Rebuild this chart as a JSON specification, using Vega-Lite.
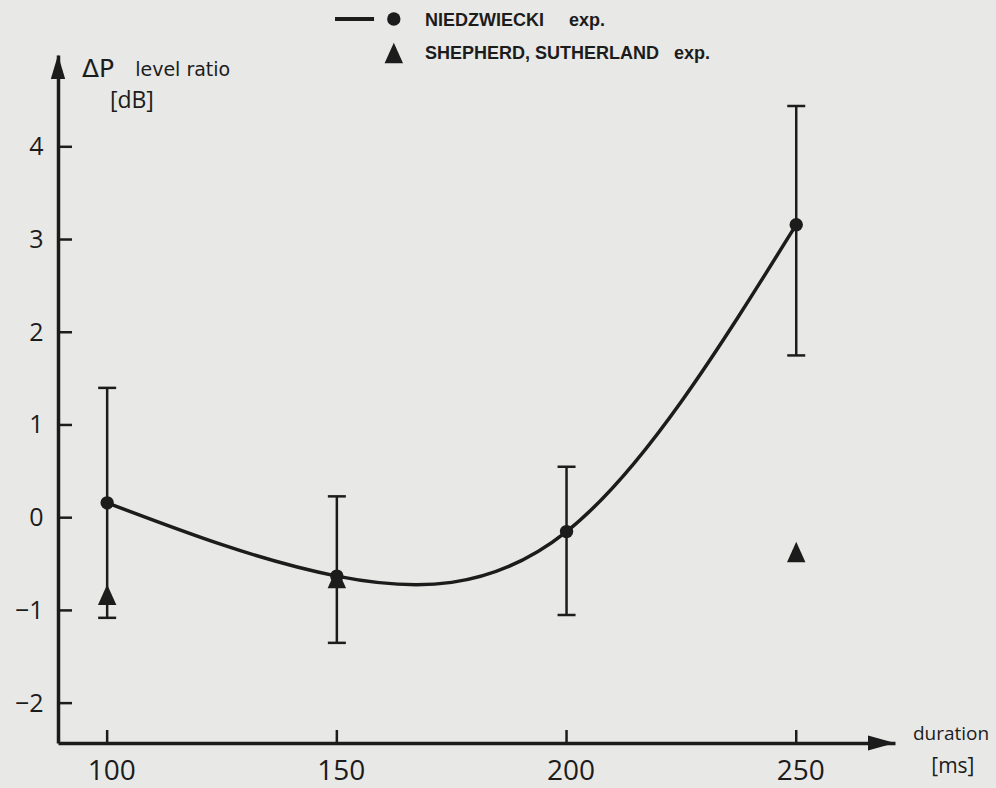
{
  "$schema": "https://vega.github.io/schema/vega-lite/v6.json",
  "width": 837,
  "height": 688,
  "autosize": {"type": "none"},
  "padding": {"left": 58, "top": 55, "right": 101, "bottom": 45},
  "background": "#e8e8e7",
  "config": {
    "view": {"stroke": null},
    "axis": {"grid": false, "ticks": true, "tickOpacity": 0, "domainColor": "#1c1c1c", "domainWidth": 3.5, "tickColor": "#1c1c1c", "tickWidth": 2.5, "labelColor": "#1c1c1c", "labelFont": "Open Sans", "labelFlush": false, "labelOverlap": false, "format": "d"},
    "axisX": {"tickSize": 13, "labelFontSize": 28, "labelPadding": 1, "labelOffset": 4},
    "axisY": {"tickSize": 14, "labelFontSize": 25, "labelPadding": 1},
    "text": {"font": "Open Sans", "color": "#1c1c1c"}
  },
  "datasets": {
    "niedz": [
      {"d": 100, "v": 0.16, "lo": -1.08, "hi": 1.40},
      {"d": 150, "v": -0.63, "lo": -1.35, "hi": 0.23},
      {"d": 200, "v": -0.15, "lo": -1.05, "hi": 0.55},
      {"d": 250, "v": 3.16, "lo": 1.75, "hi": 4.44}
    ],
    "shep": [
      {"d": 100, "v": -0.83},
      {"d": 150, "v": -0.65},
      {"d": 250, "v": -0.37}
    ],
    "ticksX": [{"t": 100}, {"t": 150}, {"t": 200}, {"t": 250}],
    "ticksY": [{"t": -2}, {"t": -1}, {"t": 0}, {"t": 1}, {"t": 2}, {"t": 3}, {"t": 4}]
  },
  "layer": [
    {
      "data": {"name": "niedz"},
      "mark": {"type": "line", "interpolate": "natural", "strokeWidth": 3.5, "color": "#1c1c1c"},
      "encoding": {
        "x": {"field": "d", "type": "quantitative", "title": null, "scale": {"domain": [89.3, 271.5], "nice": false, "zero": false},
          "axis": {"values": [100, 150, 200, 250]}},
        "y": {"field": "v", "type": "quantitative", "title": null, "scale": {"domain": [-2.43, 4.99], "nice": false, "zero": false},
          "axis": {"values": [-2, -1, 0, 1, 2, 3, 4]}}
      }
    },
    {
      "data": {"name": "ticksX"},
      "mark": {"type": "rule", "strokeWidth": 2.5, "color": "#1c1c1c"},
      "encoding": {
        "x": {"field": "t", "type": "quantitative", "title": null},
        "y": {"datum": -2.43, "type": "quantitative", "title": null},
        "y2": {"datum": -2.29}
      }
    },
    {
      "data": {"name": "ticksY"},
      "mark": {"type": "rule", "strokeWidth": 2.5, "color": "#1c1c1c"},
      "encoding": {
        "y": {"field": "t", "type": "quantitative", "title": null},
        "x": {"datum": 89.3, "type": "quantitative", "title": null},
        "x2": {"datum": 92.35}
      }
    },
    {
      "data": {"name": "niedz"},
      "mark": {"type": "rule", "strokeWidth": 2.5, "color": "#1c1c1c"},
      "encoding": {
        "x": {"field": "d", "type": "quantitative", "title": null},
        "y": {"field": "lo", "type": "quantitative", "title": null},
        "y2": {"field": "hi"}
      }
    },
    {
      "data": {"name": "niedz"},
      "mark": {"type": "tick", "orient": "horizontal", "size": 18, "thickness": 2.5, "color": "#1c1c1c", "opacity": 1},
      "encoding": {
        "x": {"field": "d", "type": "quantitative", "title": null},
        "y": {"field": "lo", "type": "quantitative", "title": null}
      }
    },
    {
      "data": {"name": "niedz"},
      "mark": {"type": "tick", "orient": "horizontal", "size": 18, "thickness": 2.5, "color": "#1c1c1c", "opacity": 1},
      "encoding": {
        "x": {"field": "d", "type": "quantitative", "title": null},
        "y": {"field": "hi", "type": "quantitative", "title": null}
      }
    },
    {
      "data": {"name": "niedz"},
      "mark": {"type": "point", "shape": "circle", "filled": true, "size": 180, "color": "#1c1c1c", "opacity": 1},
      "encoding": {
        "x": {"field": "d", "type": "quantitative", "title": null},
        "y": {"field": "v", "type": "quantitative", "title": null}
      }
    },
    {
      "data": {"name": "shep"},
      "mark": {"type": "point", "shape": "M0,-1L0.9,1L-0.9,1Z", "filled": true, "size": 420, "color": "#1c1c1c", "opacity": 1},
      "encoding": {
        "x": {"field": "d", "type": "quantitative", "title": null},
        "y": {"field": "v", "type": "quantitative", "title": null}
      }
    },
    {
      "data": {"values": [{"k": 1}]},
      "mark": {"type": "point", "shape": "M-1,-0.55L1,0L-1,0.55Z", "filled": true, "size": 729, "color": "#1c1c1c", "opacity": 1},
      "encoding": {
        "x": {"datum": 268.56, "type": "quantitative", "title": null},
        "y": {"datum": -2.43, "type": "quantitative", "title": null}
      }
    },
    {
      "data": {"values": [{"k": 1}]},
      "mark": {"type": "point", "shape": "M-0.6,1L0,-1L0.6,1Z", "filled": true, "size": 576, "color": "#1c1c1c", "opacity": 1},
      "encoding": {
        "x": {"datum": 89.3, "type": "quantitative", "title": null},
        "y": {"datum": 4.861, "type": "quantitative", "title": null}
      }
    },
    {
      "data": {"values": [{"k": 1}]},
      "mark": {"type": "text", "text": "ΔP", "font": "DejaVu Sans", "fontSize": 25, "align": "left", "baseline": "alphabetic"},
      "encoding": {
        "x": {"datum": 94.5, "type": "quantitative", "title": null},
        "y": {"datum": 4.753, "type": "quantitative", "title": null}
      }
    },
    {
      "data": {"values": [{"k": 1}]},
      "mark": {"type": "text", "text": "level ratio", "font": "DejaVu Sans", "fontSize": 19, "align": "left", "baseline": "alphabetic"},
      "encoding": {
        "x": {"datum": 106.1, "type": "quantitative", "title": null},
        "y": {"datum": 4.763, "type": "quantitative", "title": null}
      }
    },
    {
      "data": {"values": [{"k": 1}]},
      "mark": {"type": "text", "text": "[dB]", "fontSize": 23, "align": "left", "baseline": "alphabetic"},
      "encoding": {
        "x": {"datum": 100.6, "type": "quantitative", "title": null},
        "y": {"datum": 4.418, "type": "quantitative", "title": null}
      }
    },
    {
      "data": {"values": [{"k": 1}]},
      "mark": {"type": "text", "text": "duration", "fontSize": 19, "align": "center", "baseline": "alphabetic"},
      "encoding": {
        "x": {"datum": 283.7, "type": "quantitative", "title": null},
        "y": {"datum": -2.398, "type": "quantitative", "title": null}
      }
    },
    {
      "data": {"values": [{"k": 1}]},
      "mark": {"type": "text", "text": "[ms]", "fontSize": 21, "align": "center", "baseline": "middle"},
      "encoding": {
        "x": {"datum": 284.1, "type": "quantitative", "title": null},
        "y": {"datum": -2.689, "type": "quantitative", "title": null}
      }
    },
    {
      "data": {"values": [{"k": 1}]},
      "mark": {"type": "rule", "strokeWidth": 4, "color": "#1c1c1c"},
      "encoding": {
        "x": {"datum": 149.6, "type": "quantitative", "title": null},
        "x2": {"datum": 158.1},
        "y": {"datum": 5.378, "type": "quantitative", "title": null}
      }
    },
    {
      "data": {"values": [{"k": 1}]},
      "mark": {"type": "point", "shape": "circle", "filled": true, "size": 180, "color": "#1c1c1c", "opacity": 1},
      "encoding": {
        "x": {"datum": 162.4, "type": "quantitative", "title": null},
        "y": {"datum": 5.378, "type": "quantitative", "title": null}
      }
    },
    {
      "data": {"values": [{"k": 1}]},
      "mark": {"type": "point", "shape": "M0,-1L0.9,1L-0.9,1Z", "filled": true, "size": 420, "color": "#1c1c1c", "opacity": 1},
      "encoding": {
        "x": {"datum": 162.4, "type": "quantitative", "title": null},
        "y": {"datum": 5.012, "type": "quantitative", "title": null}
      }
    },
    {
      "data": {"values": [{"k": 1}]},
      "mark": {"type": "text", "text": "NIEDZWIECKI\u00a0\u00a0\u00a0\u00a0\u00a0exp.", "font": "Liberation Sans", "fontWeight": "bold", "fontSize": 18, "align": "left", "baseline": "middle"},
      "encoding": {
        "x": {"datum": 169.2, "type": "quantitative", "title": null},
        "y": {"datum": 5.36, "type": "quantitative", "title": null}
      }
    },
    {
      "data": {"values": [{"k": 1}]},
      "mark": {"type": "text", "text": "SHEPHERD, SUTHERLAND\u00a0\u00a0\u00a0exp.", "font": "Liberation Sans", "fontWeight": "bold", "fontSize": 18, "align": "left", "baseline": "middle"},
      "encoding": {
        "x": {"datum": 169.2, "type": "quantitative", "title": null},
        "y": {"datum": 5.0, "type": "quantitative", "title": null}
      }
    }
  ]
}
